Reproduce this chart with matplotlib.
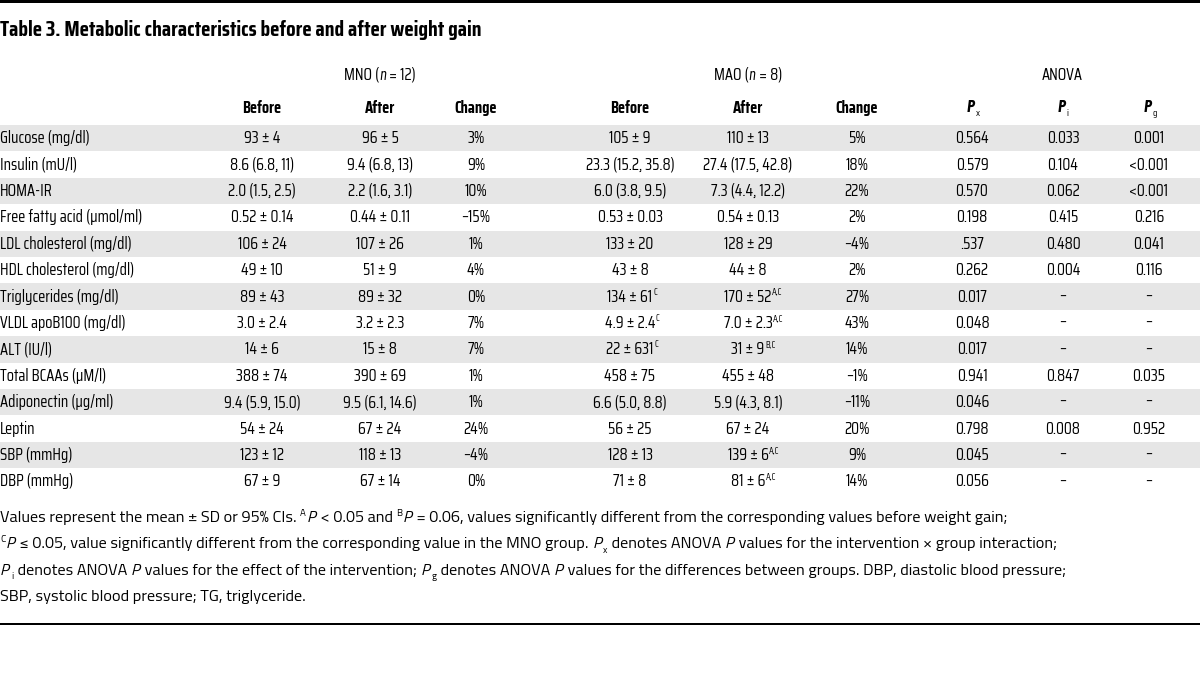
import matplotlib
matplotlib.use("Agg")
import matplotlib.pyplot as plt
from matplotlib.patches import Rectangle
from matplotlib.transforms import IdentityTransform

W, H = 1200, 696
COND = ["Saira Condensed", "Barlow Condensed", "Roboto", "DejaVu Sans"]
CONDIT = ["Barlow Condensed", "Roboto", "DejaVu Sans"]
REG = ["Titillium Web", "Open Sans", "DejaVu Sans"]

title = "Table 3. Metabolic characteristics before and after weight gain"
groups = [("MNO (", "n", " = 12)"), ("MAO (", "n", " = 8)"), ("ANOVA", "", "")]
subheads = ["Before", "After", "Change", "Before", "After", "Change"]
p_heads = [("P", "x"), ("P", "i"), ("P", "g")]

rows = ["Glucose (mg/dl)", "Insulin (mU/l)", "HOMA-IR", "Free fatty acid (\u00b5mol/ml)",
        "LDL cholesterol (mg/dl)", "HDL cholesterol (mg/dl)", "Triglycerides (mg/dl)",
        "VLDL apoB100 (mg/dl)", "ALT (IU/l)", "Total BCAAs (\u00b5M/l)",
        "Adiponectin (\u00b5g/ml)", "Leptin", "SBP (mmHg)", "DBP (mmHg)"]
mno_before = ["93 \u00b1 4", "8.6 (6.8, 11)", "2.0 (1.5, 2.5)", "0.52 \u00b1 0.14", "106 \u00b1 24",
              "49 \u00b1 10", "89 \u00b1 43", "3.0 \u00b1 2.4", "14 \u00b1 6", "388 \u00b1 74",
              "9.4 (5.9, 15.0)", "54 \u00b1 24", "123 \u00b1 12", "67 \u00b1 9"]
mno_after = ["96 \u00b1 5", "9.4 (6.8, 13)", "2.2 (1.6, 3.1)", "0.44 \u00b1 0.11", "107 \u00b1 26",
             "51 \u00b1 9", "89 \u00b1 32", "3.2 \u00b1 2.3", "15 \u00b1 8", "390 \u00b1 69",
             "9.5 (6.1, 14.6)", "67 \u00b1 24", "118 \u00b1 13", "67 \u00b1 14"]
mno_change = ["3%", "9%", "10%", "\u201315%", "1%", "4%", "0%", "7%", "7%", "1%", "1%", "24%",
              "\u20134%", "0%"]
mao_before = ["105 \u00b1 9", "23.3 (15.2, 35.8)", "6.0 (3.8, 9.5)", "0.53 \u00b1 0.03", "133 \u00b1 20",
              "43 \u00b1 8", "134 \u00b1 61", "4.9 \u00b1 2.4", "22 \u00b1 631", "458 \u00b1 75",
              "6.6 (5.0, 8.8)", "56 \u00b1 25", "128 \u00b1 13", "71 \u00b1 8"]
mao_before_sup = ["", "", "", "", "", "", "C", "C", "C", "", "", "", "", ""]
mao_after = ["110 \u00b1 13", "27.4 (17.5, 42.8)", "7.3 (4.4, 12.2)", "0.54 \u00b1 0.13", "128 \u00b1 29",
             "44 \u00b1 8", "170 \u00b1 52", "7.0 \u00b1 2.3", "31 \u00b1 9", "455 \u00b1 48",
             "5.9 (4.3, 8.1)", "67 \u00b1 24", "139 \u00b1 6", "81 \u00b1 6"]
mao_after_sup = ["", "", "", "", "", "", "A,C", "A,C", "B,C", "", "", "", "A,C", "A,C"]
mao_change = ["5%", "18%", "22%", "2%", "\u20134%", "2%", "27%", "43%", "14%", "\u20131%",
              "\u201311%", "20%", "9%", "14%"]
p_x = ["0.564", "0.579", "0.570", "0.198", ".537", "0.262", "0.017", "0.048", "0.017", "0.941",
       "0.046", "0.798", "0.045", "0.056"]
p_i = ["0.033", "0.104", "0.062", "0.415", "0.480", "0.004", "\u2013", "\u2013", "\u2013", "0.847",
       "\u2013", "0.008", "\u2013", "\u2013"]
p_g = ["0.001", "<0.001", "<0.001", "0.216", "0.041", "0.116", "\u2013", "\u2013", "\u2013", "0.035",
       "\u2013", "0.952", "\u2013", "\u2013"]

footnote = [
    [("Values represent the mean \u00b1 SD or 95% CIs. ", "n"), ("A", "sup"), ("P", "i"),
     (" < 0.05 and ", "n"), ("B", "sup"), ("P", "i"),
     (" = 0.06, values significantly different from the corresponding values before weight gain;", "n")],
    [("C", "sup"), ("P", "i"), (" \u2264 0.05, value significantly different from the corresponding value in the MNO group. ", "n"),
     ("P", "i"), ("x", "sub"), (" denotes ANOVA ", "n"), ("P", "i"),
     (" values for the intervention \u00d7 group interaction;", "n")],
    [("P", "i"), ("i", "sub"), (" denotes ANOVA ", "n"), ("P", "i"),
     (" values for the effect of the intervention; ", "n"), ("P", "i"), ("g", "sub"),
     (" denotes ANOVA ", "n"), ("P", "i"),
     (" values for the differences between groups. DBP, diastolic blood pressure;", "n")],
    [("SBP, systolic blood pressure; TG, triglyceride.", "n")],
]

fig = plt.figure(figsize=(W / 100, H / 100), dpi=100)
fig.patch.set_facecolor("white")
renderer = fig.canvas.get_renderer()
ID = IdentityTransform()


def T(x, y, s, **kw):
    return fig.text(x, H - y, s, transform=ID, **kw)


def width(t):
    return t.get_window_extent(renderer).width


def fit_size(s, target, **kw):
    t = T(0, -100, s, fontsize=10, **kw)
    w = width(t)
    t.remove()
    return 10 * target / w


# rules
fig.add_artist(Rectangle((0, H - 2.5), W, 2.5, transform=ID, color="black", lw=0))
fig.add_artist(Rectangle((0, H - 625), W, 1.6, transform=ID, color="black", lw=0))

TS = fit_size(title, 482, fontweight="bold", family=COND)
T(0, 30, title, fontsize=TS, fontweight="bold", family=COND, va="center")

FS = fit_size(rows[3], 143, family=COND)

# group headers
group_x = [380, 748, 1062]
for gx, (a, it, b) in zip(group_x, groups):
    parts = [(a, "normal"), (it, "italic"), (b, "normal")]
    parts = [p for p in parts if p[0]]
    ts = [T(0, 75, s, fontsize=FS, family=(CONDIT if st == "italic" else COND),
            style=st, va="center") for s, st in parts]
    tot = sum(width(t) for t in ts)
    x = gx - tot / 2
    for t in ts:
        t.set_x(x)
        x += width(t)

col_x = [262, 380, 476, 630, 748, 857, 972, 1063, 1149]
for cx, s in zip(col_x[:6], subheads):
    T(cx, 108, s, fontsize=FS, fontweight="bold", family=COND, ha="center", va="center")
for cx, (p, sub) in zip(col_x[6:], p_heads):
    t = T(0, 108, p, fontsize=FS * 1.05, fontweight="bold", style="italic", family=CONDIT, va="center")
    w = width(t)
    t.set_x(cx - w / 2 - 2)
    T(cx - w / 2 - 2 + w + 1.5, 114, sub, fontsize=FS * 0.6, family=COND, va="center")

# rows
top0 = 125.0
rh = 26.4
for i, name in enumerate(rows):
    yt = top0 + i * rh
    yc = yt + rh / 2
    if i % 2 == 0:
        fig.add_artist(Rectangle((0, H - yt - rh), W, rh, transform=ID,
                                 color="#e6e6e6", lw=0, zorder=0))
    T(0, yc, name, fontsize=FS, family=COND, va="center")
    cells = [mno_before[i], mno_after[i], mno_change[i], mao_before[i], mao_after[i],
             mao_change[i], p_x[i], p_i[i], p_g[i]]
    sups = ["", "", "", mao_before_sup[i], mao_after_sup[i], "", "", "", ""]
    for cx, s, sp in zip(col_x, cells, sups):
        t = T(cx, yc, s, fontsize=FS, family=COND, ha="center", va="center")
        if sp:
            w = width(t)
            T(cx + w / 2 + 0.5, yc - 4.5, sp, fontsize=FS * 0.58, family=COND, va="center")

# footnote
line1 = "".join(s for s, k in footnote[0])
FN = fit_size(line1, 1018, family=REG)
for j, line in enumerate(footnote):
    yc = 518 + j * 26.4
    x = 0
    for s, kind in line:
        if kind == "n":
            t = T(x, yc, s, fontsize=FN, family=REG, va="center")
            x += width(t)
        elif kind == "i":
            t = T(x, yc, s, fontsize=FN, family=REG, style="italic", va="center")
            x += width(t) + 1.5
        elif kind == "sup":
            t = T(x, yc - 5, s, fontsize=FN * 0.6, family=REG, va="center")
            x += width(t) + 0.5
        else:
            t = T(x + 0.5, yc + 6, s, fontsize=FN * 0.6, family=REG, va="center")
            x += width(t) + 1

fig.savefig("out.png", dpi=100)
